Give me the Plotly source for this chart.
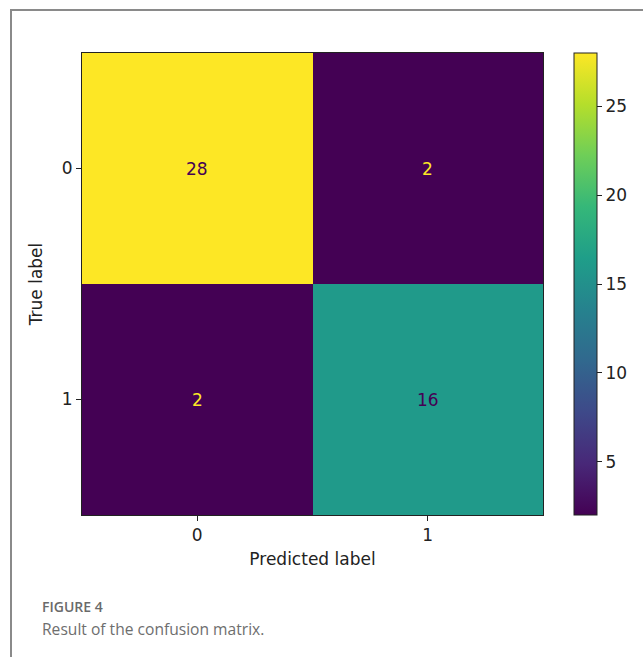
import plotly.graph_objects as go

W, H = 643, 657

classes = ["0", "1"]
matrix = [[28, 2],
          [2, 16]]
cbar_ticks = [5, 10, 15, 20, 25]
x_title = "Predicted label"
y_title = "True label"
fig_label = "FIGURE 4"
caption = "Result of the confusion matrix."

def px_x(p):
    return p / W

def px_y(p):
    return 1 - p / H

left, right, top, bottom = 82, 543, 53, 515

fig = go.Figure()
fig.add_trace(go.Heatmap(
    z=matrix, x=[0, 1], y=[0, 1],
    colorscale="Viridis",
    zmin=min(min(r) for r in matrix), zmax=max(max(r) for r in matrix),
    showscale=True,
    hoverinfo="skip",
    colorbar=dict(
        thickness=23, thicknessmode="pixels",
        len=bottom - top, lenmode="pixels",
        x=px_x(574), xanchor="left",
        y=px_y(top), yanchor="top",
        xpad=0, ypad=0,
        outlinewidth=1, outlinecolor="#222",
        tickvals=cbar_ticks, ticks="outside", ticklen=5, tickwidth=1,
        tickcolor="#222",
        tickfont=dict(family="DejaVu Sans", size=17, color="#222"),
    ),
))

zmin = min(min(r) for r in matrix)
zmax = max(max(r) for r in matrix)
thresh = (zmin + zmax) / 2
annotations = []
for i, row in enumerate(matrix):
    for j, v in enumerate(row):
        annotations.append(dict(
            x=j, y=i, xref="x", yref="y", text=str(v), showarrow=False,
            font=dict(family="DejaVu Sans", size=17,
                      color="#440154" if v > thresh else "#fde725"),
        ))

annotations.append(dict(x=px_x(41), y=px_y(606), xref="paper", yref="paper",
                        xanchor="left", yanchor="middle", showarrow=False,
                        borderpad=0,
                        text=fig_label,
                        font=dict(family="Open Sans", size=14, weight=600,
                                  color="#6a6a6a")))
annotations.append(dict(x=px_x(41), y=px_y(629), xref="paper", yref="paper",
                        xanchor="left", yanchor="middle", showarrow=False,
                        borderpad=0,
                        text=caption,
                        font=dict(family="Open Sans", size=15.6, color="#6e6e6e")))

fig.update_layout(
    width=W, height=H,
    margin=dict(l=0, r=0, t=0, b=0),
    paper_bgcolor="white", plot_bgcolor="white",
    annotations=annotations,
    xaxis=dict(domain=[px_x(left), px_x(right)], range=[-0.5, 1.5],
               tickvals=[0, 1], ticktext=classes, ticks="outside", ticklen=5,
               tickwidth=1, tickcolor="#222", showgrid=False, zeroline=False,
               showline=True, linecolor="#222", linewidth=1, mirror=True,
               tickfont=dict(family="DejaVu Sans", size=17, color="#222"),
               title=dict(text=x_title, standoff=8,
                          font=dict(family="DejaVu Sans", size=17, color="#222"))),
    yaxis=dict(domain=[px_y(bottom), px_y(top)], range=[1.5, -0.5],
               tickvals=[0, 1], ticktext=classes, ticks="outside", ticklen=5,
               tickwidth=1, tickcolor="#222", showgrid=False, zeroline=False,
               showline=True, linecolor="#222", linewidth=1, mirror=True,
               tickfont=dict(family="DejaVu Sans", size=17, color="#222"),
               title=dict(text=y_title, standoff=14,
                          font=dict(family="DejaVu Sans", size=17, color="#222"))),
    shapes=[dict(type="path", xref="paper", yref="paper",
                 path=f"M {px_x(11)} 0 L {px_x(11)} {px_y(10)} L 1.01 {px_y(10)}",
                 line=dict(color="#8a8a8a", width=2))],
)

fig.write_html("out.html", config={"displayModeBar": False},
               post_script="document.body.style.margin='0px';document.body.style.overflow='hidden';")
